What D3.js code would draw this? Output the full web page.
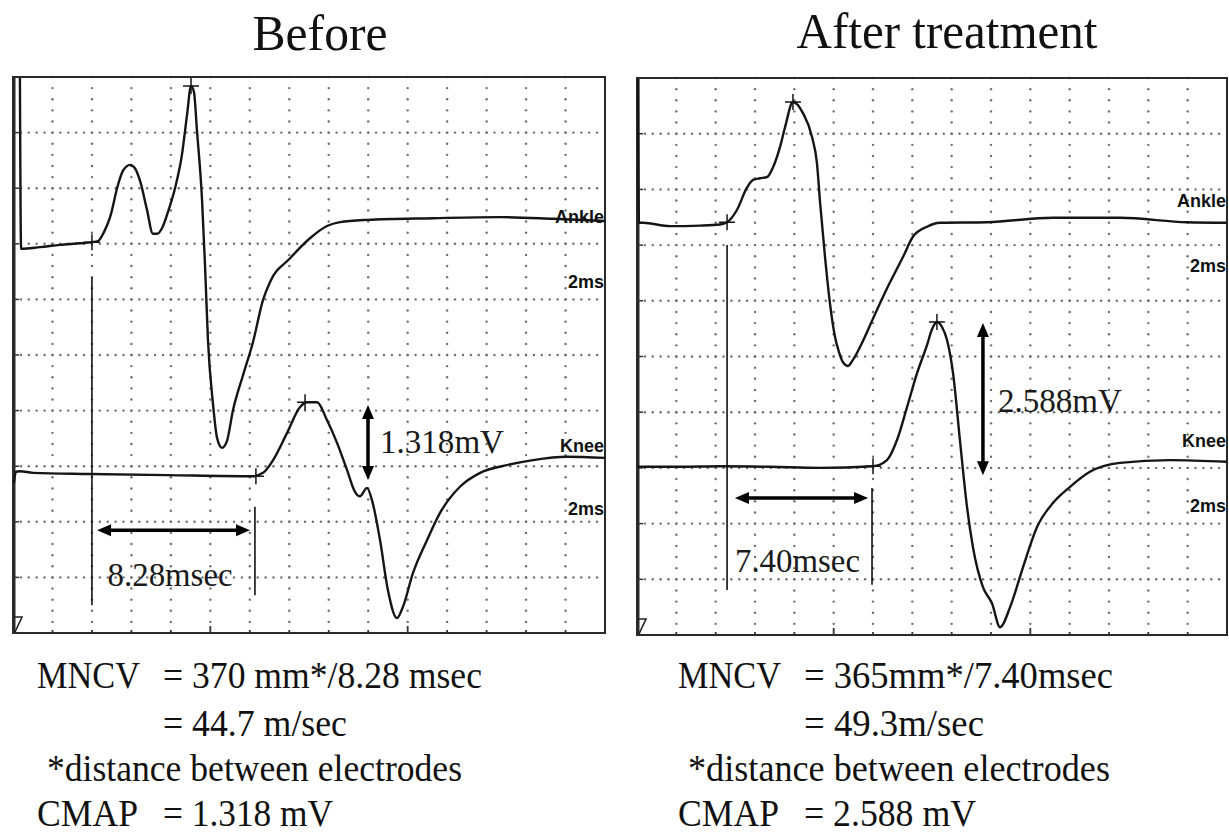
<!DOCTYPE html>
<html><head><meta charset="utf-8">
<script src="https://cdn.jsdelivr.net/npm/d3@7"></script>
<style>
html,body{margin:0;padding:0;background:#fff;}
svg{display:block;}
</style></head>
<body>
<svg id="chart" width="1229" height="833"></svg>
<script>
// ---- DATA (time in ms, amplitude in screen divisions above bottom; 2 ms/div, 1 mV/div) ----
const timeTicks = d3.range(0, 31, 2);           // vertical grid lines (2 ms/div)
const ampTicks = d3.range(0, 11, 1);            // horizontal grid lines
const titles = ["Before", "After treatment"];
const traceLabels = ["Ankle", "2ms", "Knee", "2ms"];

const beforeAnkle = [[0.35,9.98],[0.41,6.91],[1.37,6.94],[2.38,6.98],[3.40,7.01],[4.00,7.03],[4.31,7.05],[4.61,7.21],[4.92,7.48],[5.32,8.06],[5.57,8.31],[5.93,8.42],[6.18,8.36],[6.44,8.13],[6.79,7.61],[7.09,7.18],[7.30,7.18],[7.55,7.28],[7.85,7.57],[8.21,8.00],[8.56,8.60],[8.82,9.32],[9.02,9.84],[9.17,9.73],[9.32,9.05],[9.58,7.79],[9.73,6.62],[9.88,5.27],[10.14,4.10],[10.34,3.51],[10.59,3.33],[10.84,3.45],[11.15,4.01],[11.66,4.64],[12.16,5.23],[12.67,5.99],[13.02,6.31],[14.04,6.74],[15.05,7.10],[15.91,7.32],[16.57,7.39],[17.94,7.43],[21.28,7.46],[24.68,7.48],[27.37,7.45],[30.0,7.41]];
const beforeKnee = [[0.05,2.70],[0.15,2.90],[0.35,2.91],[1.01,2.88],[3.90,2.86],[7.80,2.84],[12.16,2.82],[12.67,2.88],[13.18,3.11],[13.89,3.60],[14.54,4.06],[14.90,4.15],[15.41,4.15],[15.91,3.83],[16.42,3.42],[16.93,2.93],[17.33,2.54],[17.58,2.46],[17.94,2.61],[18.19,2.39],[18.60,1.67],[19.00,0.77],[19.46,0.27],[19.76,0.47],[20.27,1.08],[20.98,1.67],[21.64,2.16],[22.65,2.63],[23.67,2.88],[25.03,3.02],[26.35,3.11],[28.07,3.17],[30.0,3.15]];
const afterAnkle = [[0.05,9.98],[0.10,7.40],[0.31,7.40],[1.68,7.34],[3.20,7.35],[4.22,7.37],[4.58,7.41],[5.08,7.63],[5.59,8.03],[5.90,8.17],[6.25,8.20],[6.61,8.22],[6.92,8.40],[7.27,8.76],[7.53,9.12],[7.93,9.57],[8.44,9.37],[8.90,8.94],[9.15,8.47],[9.31,7.76],[9.56,6.79],[9.81,5.96],[10.07,5.35],[10.27,5.08],[10.47,4.90],[10.73,4.83],[10.98,4.94],[11.49,5.28],[12.00,5.68],[12.71,6.22],[13.53,6.79],[14.03,7.15],[14.75,7.33],[15.41,7.40],[17.80,7.41],[21.15,7.49],[24.56,7.49],[27.97,7.41],[30.0,7.40]];
const afterKnee = [[0.0,3.02],[2.19,3.02],[4.22,3.03],[6.76,3.02],[9.31,3.00],[12.00,3.03],[12.71,3.14],[13.22,3.50],[13.73,4.09],[14.24,4.70],[14.75,5.21],[15.00,5.49],[15.25,5.62],[15.51,5.53],[15.76,5.30],[16.07,4.70],[16.42,3.50],[16.78,2.30],[17.08,1.58],[17.59,0.86],[18.05,0.57],[18.46,0.14],[18.97,0.50],[19.63,1.22],[20.34,1.94],[21.15,2.37],[22.02,2.66],[23.03,2.93],[24.56,3.09],[27.10,3.14],[30.0,3.11]];

// cursor marks (+): onset/peak of each trace
const beforeCursors = [[4.00,7.03],[9.02,9.84],[12.31,2.82],[14.80,4.15]];
const afterCursors  = [[4.58,7.41],[7.93,9.57],[12.00,3.03],[15.25,5.62]];

// latency (ms) and amplitude (mV) annotations
const latencyLabels = ["8.28msec", "7.40msec"];
const amplitudeLabels = ["1.318mV", "2.588mV"];
const latencyStart = [4.00, 4.58];
const latencyEnd = [12.26, 11.95];
const amplitudeTime = [17.99, 17.59];
const amplitudeTop = [4.10, 5.60];
const amplitudeBottom = [2.75, 2.87];

const summaryLeft = ["MNCV", "= 370 mm*/8.28 msec", "= 44.7 m/sec", "*distance between electrodes", "CMAP", "= 1.318 mV"];
const summaryRight = ["MNCV", "= 365mm*/7.40msec", "= 49.3m/sec", "*distance between electrodes", "CMAP", "= 2.588 mV"];

// ---- DRAW ----
const svg = d3.select("#chart");
const serif = "'Liberation Serif','Times New Roman',Times,serif";
const sans = "'Liberation Sans',Arial,Helvetica,sans-serif";

const panels = [
  {i:0, x0:13, x1:605, y0:77, y1:633, ankle:beforeAnkle, knee:beforeKnee, cursors:beforeCursors,
   titleX:320, titleW:135, labelV:[7.37,6.20,3.26,2.12], ampLabelDx:12, ampLabelV:3.23, latLabelT:7.96, latLabelV:0.85,
   lineTop:[6.40,2.27], lineBottom:[0.50,0.68], arrowV:1.85, arrowT:[4.26,12.01], summary:summaryLeft, sx:37},
  {i:1, x0:637, x1:1227, y0:78, y1:635, ankle:afterAnkle, knee:afterKnee, cursors:afterCursors,
   titleX:947, titleW:301, labelV:[7.68,6.52,3.38,2.21], ampLabelDx:15, ampLabelV:4.01, latLabelT:8.16, latLabelV:1.13,
   lineTop:[7.00,2.64], lineBottom:[0.81,0.90], arrowV:2.46, arrowT:[4.98,11.75], summary:summaryRight, sx:678}
];

panels.forEach(p => {
  const x = d3.scaleLinear().domain([0, 30]).range([p.x0, p.x1]);
  const y = d3.scaleLinear().domain([0, 10]).range([p.y1, p.y0]);
  const g = svg.append("g");

  // title
  g.append("text").attr("x", p.titleX).attr("y", p.i === 0 ? 50 : 48)
    .attr("text-anchor", "middle").attr("font-family", serif).attr("font-size", 50)
    .attr("textLength", p.titleW).attr("lengthAdjust", "spacingAndGlyphs")
    .attr("fill", "#111").text(titles[p.i]);

  // dotted grid
  const dots = g.append("g").attr("fill", "#6e6e6e");
  timeTicks.slice(1, -1).forEach(t => {
    d3.range(0, 10.001, 0.2).forEach(v => {
      dots.append("circle").attr("cx", x(t)).attr("cy", y(v)).attr("r", 1.2);
    });
  });
  ampTicks.slice(1, -1).forEach(v => {
    d3.range(0.4, 30, 0.4).forEach(t => {
      dots.append("circle").attr("cx", x(t)).attr("cy", y(v)).attr("r", 1.2);
    });
  });

  // frame
  g.append("rect").attr("x", p.x0).attr("y", p.y0).attr("width", p.x1 - p.x0).attr("height", p.y1 - p.y0)
    .attr("fill", "none").attr("stroke", "#2a2a2a").attr("stroke-width", 2);
  g.append("line").attr("x1", p.x0 + 1).attr("x2", p.x0 + 1).attr("y1", p.y0).attr("y2", p.y1)
    .attr("stroke", "#2a2a2a").attr("stroke-width", 3);
  // left ticks
  ampTicks.slice(1, -1).forEach(v => {
    g.append("line").attr("x1", p.x0).attr("x2", p.x0 + 6).attr("y1", y(v)).attr("y2", y(v))
      .attr("stroke", "#333").attr("stroke-width", 1.5);
  });
  // bottom ticks
  timeTicks.slice(1, -1).forEach(t => {
    const len = (t === 10 || t === 20) ? 7 : 3;
    g.append("line").attr("x1", x(t)).attr("x2", x(t)).attr("y1", p.y1).attr("y2", p.y1 - len)
      .attr("stroke", "#333").attr("stroke-width", 1.8);
  });
  // corner glyph
  g.append("path").attr("d", `M${p.x0+2},${p.y1-16} L${p.x0+9},${p.y1-16} L${p.x0+2},${p.y1-1}`)
    .attr("fill", "none").attr("stroke", "#222").attr("stroke-width", 1.6);

  // traces
  const line = d3.line().x(d => x(d[0])).y(d => y(d[1])).curve(d3.curveMonotoneX);
  [p.ankle, p.knee].forEach(tr => {
    g.append("path").datum(tr).attr("d", line).attr("fill", "none")
      .attr("stroke", "#151515").attr("stroke-width", 2.4).attr("stroke-linejoin", "round");
  });

  // cursors (+)
  p.cursors.forEach(c => {
    const cx = x(c[0]), cy = y(c[1]);
    g.append("path").attr("d", `M${cx-8},${cy} L${cx+8},${cy} M${cx},${cy-8} L${cx},${cy+8}`)
      .attr("stroke", "#151515").attr("stroke-width", 1.5);
  });

  // trace labels
  traceLabels.forEach((lab, k) => {
    g.append("text").attr("x", x(30) - 1).attr("y", y(p.labelV[k])).attr("text-anchor", "end")
      .attr("font-family", sans).attr("font-weight", "bold").attr("font-size", 18)
      .attr("fill", "#111").text(lab);
  });

  // latency lines
  [latencyStart[p.i], latencyEnd[p.i]].forEach((t, k) => {
    g.append("line").attr("x1", x(t)).attr("x2", x(t)).attr("y1", y(p.lineTop[k])).attr("y2", y(p.lineBottom[k]))
      .attr("stroke", "#111").attr("stroke-width", 1.6);
  });

  // double arrows
  function dblArrow(xa, ya, xb, yb) {
    const ang = Math.atan2(yb - ya, xb - xa);
    const L = 14, W = 6;
    const head = (px, py, a) => {
      const bx = px - L * Math.cos(a), by = py - L * Math.sin(a);
      return `M${px},${py} L${bx + W*Math.sin(a)},${by - W*Math.cos(a)} L${bx - W*Math.sin(a)},${by + W*Math.cos(a)} Z`;
    };
    g.append("line").attr("x1", xa + 8*Math.cos(ang)).attr("y1", ya + 8*Math.sin(ang))
      .attr("x2", xb - 8*Math.cos(ang)).attr("y2", yb - 8*Math.sin(ang))
      .attr("stroke", "#000").attr("stroke-width", 3.5);
    g.append("path").attr("d", head(xb, yb, ang)).attr("fill", "#000");
    g.append("path").attr("d", head(xa, ya, ang + Math.PI)).attr("fill", "#000");
  }
  dblArrow(x(p.arrowT[0]), y(p.arrowV), x(p.arrowT[1]), y(p.arrowV));
  dblArrow(x(amplitudeTime[p.i]), y(amplitudeTop[p.i]), x(amplitudeTime[p.i]), y(amplitudeBottom[p.i]));

  // annotation text
  g.append("text").attr("x", x(p.latLabelT)).attr("y", y(p.latLabelV)).attr("text-anchor", "middle")
    .attr("font-family", serif).attr("font-size", 33).attr("textLength", 125).attr("lengthAdjust", "spacingAndGlyphs")
    .attr("fill", "#1a1a1a").text(latencyLabels[p.i]);
  g.append("text").attr("x", x(amplitudeTime[p.i]) + p.ampLabelDx).attr("y", y(p.ampLabelV))
    .attr("font-family", serif).attr("font-size", 33).attr("textLength", 124).attr("lengthAdjust", "spacingAndGlyphs")
    .attr("fill", "#1a1a1a").text(amplitudeLabels[p.i]);

  // summary text
  const s = p.summary;
  const eqX = p.sx + 126;
  const rows = [
    {t:s[0], x:p.sx, y:688, w:103},
    {t:s[1], x:eqX, y:688, w:p.i === 0 ? 319 : 309},
    {t:s[2], x:eqX, y:736, w:p.i === 0 ? 184 : 180},
    {t:s[3], x:p.i === 0 ? 47 : 688, y:781, w:p.i === 0 ? 415 : 422},
    {t:s[4], x:p.sx, y:826, w:101},
    {t:s[5], x:eqX, y:826, w:p.i === 0 ? 170 : 172}
  ];
  rows.forEach(r => {
    g.append("text").attr("x", r.x).attr("y", r.y).attr("font-family", serif).attr("font-size", 38)
      .attr("textLength", r.w).attr("lengthAdjust", "spacingAndGlyphs").attr("fill", "#111").text(r.t);
  });
});
</script>
</body></html>
